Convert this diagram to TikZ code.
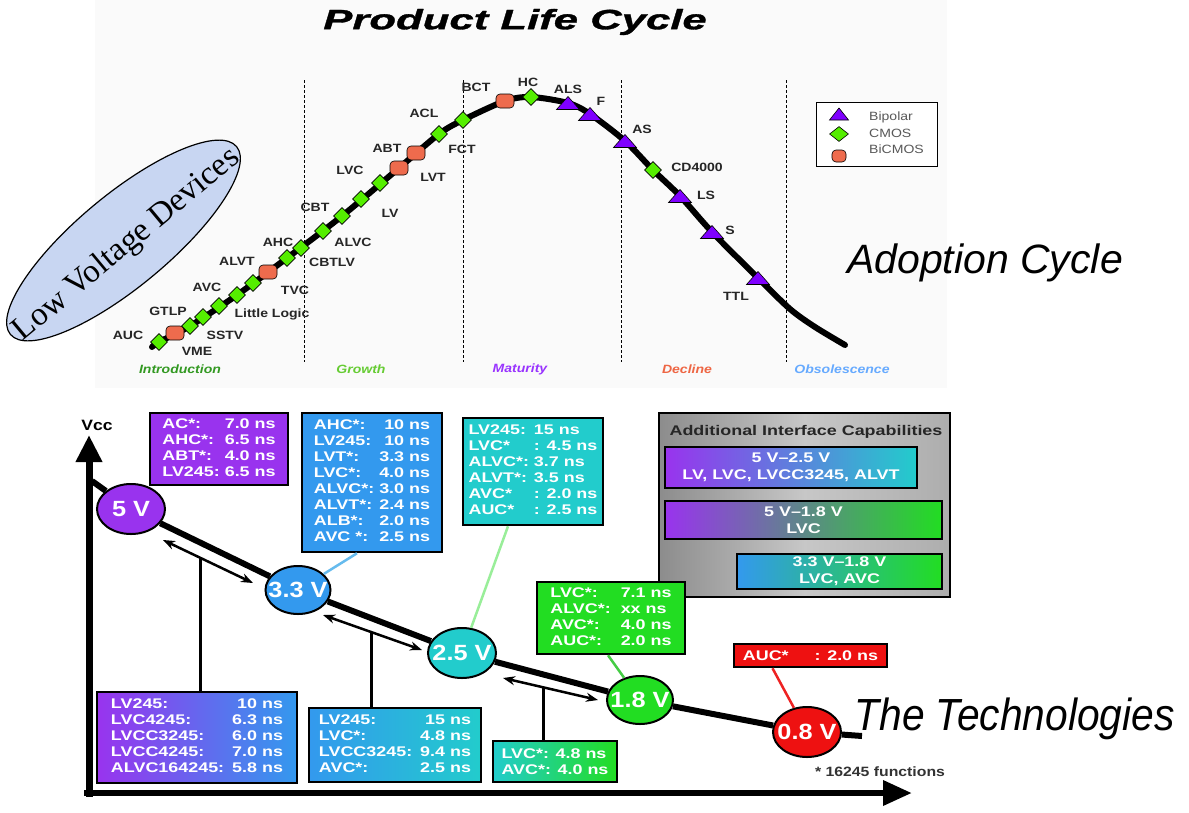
\documentclass[tikz,border=0pt]{standalone}
\usepackage{fontspec}
\setmainfont{Liberation Sans}
\newfontfamily\boxf[FakeStretch=1.28]{Liberation Sans}
\newfontfamily\lblf[FakeStretch=1.17]{Liberation Sans}
\newfontfamily\titf[FakeStretch=1.56,FakeBold=1.2]{Liberation Sans}
\newfontfamily\circf[FakeStretch=1.15]{Liberation Sans}
\newfontfamily\techf[FakeStretch=0.905]{Liberation Sans}
\newfontfamily\serf{Liberation Serif}
\usetikzlibrary{shapes.geometric,arrows.meta,calc}
\definecolor{pV}{HTML}{9933EE}
\definecolor{bV}{HTML}{3399EE}
\definecolor{tV}{HTML}{22CCCC}
\definecolor{gV}{HTML}{22DD22}
\definecolor{rV}{HTML}{EE1111}
\definecolor{cmosg}{HTML}{55EE00}
\definecolor{bicg}{HTML}{EE6B4D}
\definecolor{bipg}{HTML}{7F00FF}
\definecolor{lvfill}{HTML}{C8D6F2}
\definecolor{phI}{HTML}{339922}
\definecolor{phG}{HTML}{66CC33}
\definecolor{phM}{HTML}{9933FF}
\definecolor{phD}{HTML}{EE6644}
\definecolor{phO}{HTML}{66AAFF}
\definecolor{cB}{HTML}{66BBEE}
\definecolor{cT}{HTML}{99EE99}
\definecolor{cG}{HTML}{44CC44}
\definecolor{cR}{HTML}{EE2222}
\newcommand\rw[2]{#1&#2\\}
\newcommand\bip[4]{\coordinate (#1) at (#2);
  \filldraw[fill=bipg,draw=black,line width=0.6pt] (#1) ++(-#3/2,#4/2) -- ++(#3,0) -- ++(-#3/2,-#4) -- cycle;}
\tikzset{
  lbl/.style={font=\lblf\bfseries\fontsize{12}{12}\selectfont, text=black!85, inner sep=1pt},
  legl/.style={font=\lblf\fontsize{12}{12}\selectfont, text=black!65, anchor=west, inner sep=0},
  phase/.style={font=\lblf\bfseries\itshape\fontsize{12}{12}\selectfont},
  dashln/.style={black, line width=1pt, dash pattern=on 3pt off 2pt},
  cmosm/.style={diamond, draw=black, line width=0.6pt, fill=cmosg, minimum width=17pt, minimum height=17pt, inner sep=0},
  bicm/.style={rectangle, rounded corners=4pt, draw=black, line width=0.6pt, fill=bicg, minimum width=18pt, minimum height=14pt, inner sep=0},
  vbox/.style={draw=black, line width=2.5pt, inner sep=0, text=white, align=left, font=\boxf\bfseries\fontsize{14}{16}\selectfont},
  ibar/.style={draw=black, line width=2.5pt, inner sep=0, text=white, align=center, font=\boxf\bfseries\fontsize{14}{17}\selectfont},
  volt/.style={ellipse, draw=black, line width=2pt, inner sep=0, text=white, font=\circf\bfseries\fontsize{22}{22}\selectfont},
  dbl/.style={line width=2.5pt, {Stealth[length=12pt,width=9pt]}-{Stealth[length=12pt,width=9pt]}},
  stemln/.style={line width=3pt},
  connln/.style={line width=2.5pt},
}
\begin{document}
\begin{tikzpicture}[x=1pt,y=-1pt]
\useasboundingbox (0,0) rectangle (1189,812);
\fill[white] (0,0) rectangle (1189,812);
\fill[black!2] (95,0) rectangle (947,388);

% ---------- top panel ----------
\node[font=\titf\bfseries\itshape\fontsize{28}{30}\selectfont] (title) at (515,22) {Product Life Cycle};

\foreach \x/\n in {304/d1,463/d2,621/d3,786/d4}{
  \coordinate (\n t) at (\x,80); \coordinate (\n b) at (\x,362);
  \draw[dashln] (\n t) -- (\n b);}

\node[phase, text=phI] (ph1) at (180,369) {Introduction};
\node[phase, text=phG] (ph2) at (361,369) {Growth};
\node[phase, text=phM] (ph3) at (520,369) {Maturity};
\node[phase, text=phD] (ph4) at (687,369) {Decline};
\node[phase, text=phO] (ph5) at (842,369) {Obsolescence};

\draw[line width=6pt, line cap=round] plot[smooth, tension=0.5] coordinates {
 (152,347) (159,342) (190,326) (237,295) (287,258) (342,216) (399,168) (439,134)
 (463,120) (505,101) (531,97) (568,103) (590,114) (625,141) (653,170) (680,196)
 (712,232) (758,278) (790,309) (815,327) (845,345)};

\node[cmosm] (m1) at (159,342) {};
\node[bicm] (m2) at (175,333) {};
\node[cmosm] (m3) at (190,326) {};
\node[cmosm] (m4) at (203,317) {};
\node[cmosm] (m5) at (219,306) {};
\node[cmosm] (m6) at (237,295) {};
\node[cmosm] (m7) at (253,283) {};
\node[bicm] (m8) at (268,272) {};
\node[cmosm] (m9) at (287,258) {};
\node[cmosm] (m10) at (301,248) {};
\node[cmosm] (m11) at (323,231) {};
\node[cmosm] (m12) at (342,216) {};
\node[cmosm] (m13) at (361,199) {};
\node[cmosm] (m14) at (380,183) {};
\node[bicm] (m15) at (399,168) {};
\node[bicm] (m16) at (416,153) {};
\node[cmosm] (m17) at (439,134) {};
\node[cmosm] (m18) at (463,120) {};
\node[bicm] (m19) at (505,101) {};
\node[cmosm] (m20) at (531,97) {};
\bip{m21}{568,103}{23}{13}
\bip{m22}{590,114}{23}{13}
\bip{m23}{625,141}{23}{13}
\node[cmosm] (m24) at (653,170) {};
\bip{m25}{680,196}{23}{13}
\bip{m26}{712,232}{23}{13}
\bip{m27}{758,278}{23}{13}

\node[lbl] (tAUC) at (128,335) {AUC};
\node[lbl] (tVME) at (197,351) {VME};
\node[lbl] (tGTLP) at (168,311) {GTLP};
\node[lbl] (tSSTV) at (225,335) {SSTV};
\node[lbl] (tAVC) at (207,287) {AVC};
\node[lbl] (tLL) at (272,314) {Little Logic};
\node[lbl] (tALVT) at (237,261) {ALVT};
\node[lbl] (tTVC) at (295,290) {TVC};
\node[lbl] (tAHC) at (278,242) {AHC};
\node[lbl] (tCBTLV) at (332,262) {CBTLV};
\node[lbl] (tCBT) at (315,207) {CBT};
\node[lbl] (tALVC) at (353,242) {ALVC};
\node[lbl] (tLV) at (390,213) {LV};
\node[lbl] (tLVC) at (350,170) {LVC};
\node[lbl] (tLVT) at (433,177) {LVT};
\node[lbl] (tABT) at (387,148) {ABT};
\node[lbl] (tFCT) at (462,149) {FCT};
\node[lbl] (tACL) at (424,113) {ACL};
\node[lbl] (tBCT) at (476,87) {BCT};
\node[lbl] (tHC) at (528,82) {HC};
\node[lbl] (tALS) at (568,89) {ALS};
\node[lbl] (tF) at (601,101) {F};
\node[lbl] (tAS) at (642,129) {AS};
\node[lbl] (tCD) at (697,167) {CD4000};
\node[lbl] (tLS) at (706,195) {LS};
\node[lbl] (tS) at (730,230) {S};
\node[lbl] (tTTL) at (736,296) {TTL};

% legend
\node[draw=black, line width=1pt, fill=white, minimum width=121pt, minimum height=64pt, anchor=north west, inner sep=0] (leg) at (816,102) {};
\bip{lg1}{839,114}{19}{12}
\node[cmosm, minimum width=19pt, minimum height=15pt] (lg2) at (839,134) {};
\node[bicm, minimum width=14pt, minimum height=12pt] (lg3) at (839,156) {};
\node[legl] (lgt1) at (869,117) {Bipolar};
\node[legl] (lgt2) at (869,133) {CMOS};
\node[legl] (lgt3) at (869,149) {BiCMOS};

% low voltage ellipse
\node[ellipse, draw=black, line width=1.2pt, fill=lvfill, minimum width=294pt, minimum height=92pt, rotate=39.7, inner sep=0] (lvd) at (123.5,240.5) {};
\node[rotate=39.7, font=\serf\fontsize{33}{33}\selectfont] (lvdt) at (127,245) {Low Voltage Devices};

\node[anchor=base, font=\itshape\fontsize{41}{41}\selectfont] (adopt) at (985,273) {Adoption Cycle};

% ---------- bottom panel ----------
\coordinate (Ob) at (89,796.5);
\coordinate (Ytip) at (89,435);
\coordinate (Ol) at (84,793);
\coordinate (Xtip) at (912,793);
\draw[line width=7pt, -{Triangle[length=27pt,width=25pt]}] (Ob) -- (Ytip);
\draw[line width=6.5pt, -{Triangle[length=29pt,width=24pt]}] (Ol) -- (Xtip);
\node[font=\lblf\bfseries\fontsize{15}{15}\selectfont] (vcc) at (97,425) {Vcc};

% additional interface capabilities
\node[draw=black, line width=2.5pt, left color=black!45, right color=black!32, middle color=black!22, minimum width=291pt, minimum height=184pt, inner sep=0] (AIC) at (804.5,505) {};
\node[font=\boxf\bfseries\fontsize{14}{16}\selectfont, text=black!85] (aict) at (806,432) {Additional Interface Capabilities};
\node[ibar, left color=pV, right color=tV, minimum width=252pt, minimum height=41pt] (bar1) at (791,467.5)
 {5 V–2.5 V\\LV, LVC, LVCC3245, ALVT};
\node[ibar, left color=pV, right color=gV, minimum width=277pt, minimum height=38pt] (bar2) at (803.5,520)
 {5 V–1.8 V\\LVC};
\node[ibar, left color=bV, right color=gV, minimum width=205pt, minimum height=35pt] (bar3) at (839.5,571.5)
 {3.3 V–1.8 V\\LVC, AVC};

% top boxes
\node[vbox, fill=pV, minimum width=138pt, minimum height=72pt] (P) at (219,449)
 {\begin{tabular}{@{}l@{\hskip5pt}r@{}}\rw{AC*:}{7.0 ns}\rw{AHC*:}{6.5 ns}\rw{ABT*:}{4.0 ns}\rw{LV245:}{6.5 ns}\end{tabular}};
\node[vbox, fill=bV, minimum width=140pt, minimum height=139pt] (B) at (372,482.5)
 {\begin{tabular}{@{}l@{\hskip5pt}r@{}}\rw{AHC*:}{10 ns}\rw{LV245:}{10 ns}\rw{LVT*:}{3.3 ns}\rw{LVC*:}{4.0 ns}\rw{ALVC*:}{3.0 ns}\rw{ALVT*:}{2.4 ns}\rw{ALB*:}{2.0 ns}\rw{AVC *:}{2.5 ns}\end{tabular}};
\node[vbox, fill=tV, minimum width=140pt, minimum height=107pt] (T) at (533,471.5)
 {\begin{tabular}{@{}l@{}l@{}}\rw{LV245:}{\ 15 ns}\rw{LVC*}{\ : 4.5 ns}\rw{ALVC*:}{\ 3.7 ns}\rw{ALVT*:}{\ 3.5 ns}\rw{AVC*}{\ : 2.0 ns}\rw{AUC*}{\ : 2.5 ns}\end{tabular}};
\node[vbox, fill=gV, minimum width=148pt, minimum height=72pt] (G) at (611,618)
 {\begin{tabular}{@{}l@{\hskip10pt}l@{}}\rw{LVC*:}{7.1 ns}\rw{ALVC*:}{xx ns}\rw{AVC*:}{4.0 ns}\rw{AUC*:}{2.0 ns}\end{tabular}};
\node[vbox, fill=rV, minimum width=153pt, minimum height=23pt] (R) at (810.5,655.5)
 {AUC*\hspace{26pt}: 2.0 ns};

% bottom boxes
\node[vbox, left color=pV, right color=bV, minimum width=200pt, minimum height=91pt] (A) at (197,737.5)
 {\begin{tabular}{@{}l@{\hskip8pt}r@{}}\rw{LV245:}{10 ns}\rw{LVC4245:}{6.3 ns}\rw{LVCC3245:}{6.0 ns}\rw{LVCC4245:}{7.0 ns}\rw{ALVC164245:}{5.8 ns}\end{tabular}};
\node[vbox, left color=bV, right color=tV, minimum width=172pt, minimum height=74pt] (B2) at (395,745)
 {\begin{tabular}{@{}l@{\hskip8pt}r@{}}\rw{LV245:}{15 ns}\rw{LVC*:}{4.8 ns}\rw{LVCC3245:}{9.4 ns}\rw{AVC*:}{2.5 ns}\end{tabular}};
\node[vbox, left color=tV, right color=gV, minimum width=124pt, minimum height=41pt] (C) at (555,761.5)
 {LVC*: 4.8 ns\\AVC*: 4.0 ns};

% voltage circles
\node[volt, fill=pV, minimum width=68pt, minimum height=50pt] (V5) at (131,509) {\makebox[0pt]{5 V}};
\node[volt, fill=bV, minimum width=65pt, minimum height=48pt] (V33) at (298,590) {\makebox[0pt]{3.3 V}};
\node[volt, fill=tV, minimum width=68pt, minimum height=50pt] (V25) at (462,653) {\makebox[0pt]{2.5 V}};
\node[volt, fill=gV, minimum width=66pt, minimum height=48pt] (V18) at (640,700) {\makebox[0pt]{1.8 V}};
\node[volt, fill=rV, minimum width=68pt, minimum height=50pt] (V08) at (807,732) {\makebox[0pt]{0.8 V}};

% thick voltage line
\coordinate (st) at (92,481);
\coordinate (en) at (862,736);
\draw[line width=6pt] (st) -- (V5) -- (V33) -- (V25) -- (V18) -- (V08) -- (en);

% double arrows
\coordinate (a1s) at (163,540); \coordinate (a1e) at (253,583);
\coordinate (a2s) at (323,615); \coordinate (a2e) at (422,650);
\coordinate (a3s) at (503,678); \coordinate (a3e) at (598,700);
\draw[dbl] (a1s) -- (a1e);
\draw[dbl] (a2s) -- (a2e);
\draw[dbl] (a3s) -- (a3e);

% stems
\coordinate (s1) at (200,557);
\coordinate (s2) at (371,632);
\coordinate (s3) at (543,687);
\draw[stemln] (s1) -- (s1 |- A.north);
\draw[stemln] (s2) -- (s2 |- B2.north);
\draw[stemln] (s3) -- (s3 |- C.north);

% connectors
\draw[connln, cB] ([xshift=-15pt]B.south) -- (V33);
\draw[connln, cT] ([xshift=-25pt]T.south) -- (V25);
\draw[connln, cG] ([xshift=-3pt]G.south) -- (V18);
\draw[connln, cR] ([xshift=-38pt]R.south) -- (V08);

\node[font=\lblf\bfseries\fontsize{13.5}{14}\selectfont, text=black!80] (fn) at (880,772) {* 16245 functions};
\node[anchor=base west, font=\techf\itshape\fontsize{45}{45}\selectfont] (tech) at (851,730) {The Technologies};
\end{tikzpicture}
\end{document}
